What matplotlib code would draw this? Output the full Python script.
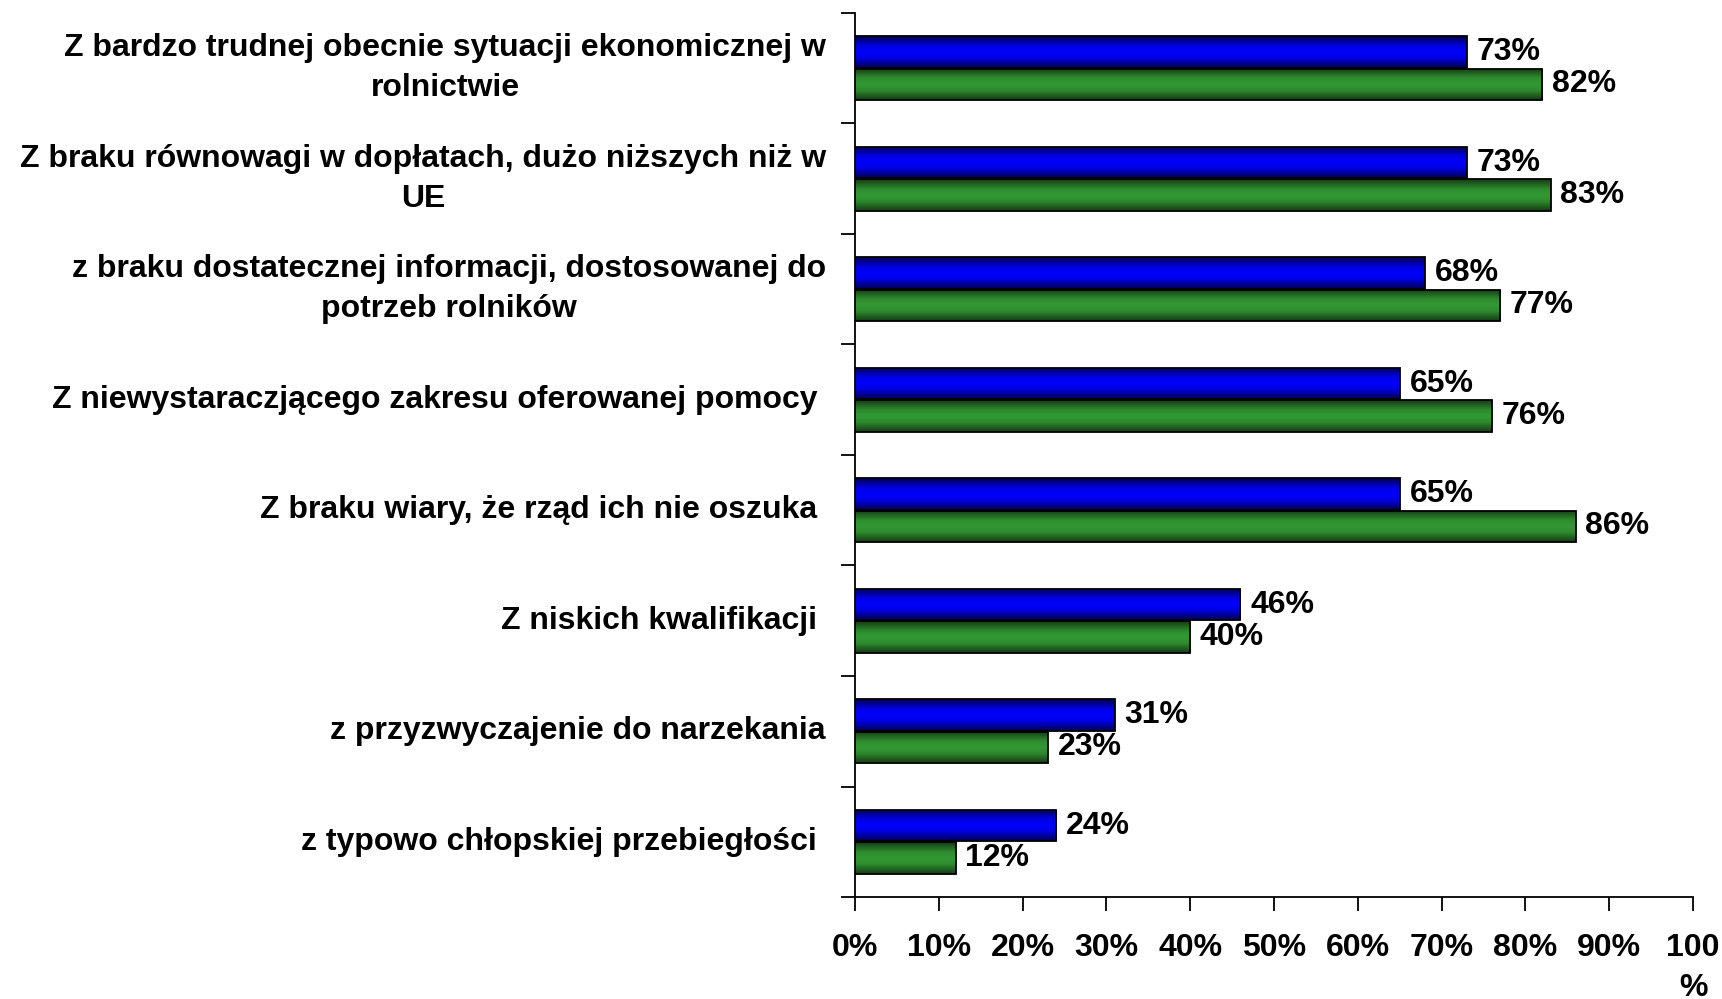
import matplotlib
matplotlib.use('Agg')
import matplotlib.pyplot as plt
import numpy as np
from matplotlib.colors import LinearSegmentedColormap
from matplotlib.transforms import blended_transform_factory

plt.rcParams['font.family'] = ['Liberation Sans', 'DejaVu Sans']
plt.rcParams['font.weight'] = 'bold'

categories = [
    'Z bardzo trudnej obecnie sytuacji ekonomicznej w\nrolnictwie',
    'Z braku równowagi w dopłatach, dużo niższych niż w\nUE',
    'z braku dostatecznej informacji, dostosowanej do\npotrzeb rolników',
    'Z niewystaraczjącego zakresu oferowanej pomocy ',
    'Z braku wiary, że rząd ich nie oszuka ',
    'Z niskich kwalifikacji ',
    'z przyzwyczajenie do narzekania',
    'z typowo chłopskiej przebiegłości ',
]
blue_vals = [73, 73, 68, 65, 65, 46, 31, 24]
green_vals = [82, 83, 77, 76, 86, 40, 23, 12]
x_ticks = [0, 10, 20, 30, 40, 50, 60, 70, 80, 90, 100]
x_labels = ['0%', '10%', '20%', '30%', '40%', '50%', '60%', '70%', '80%', '90%', '100\n%']

FS = 23

fig = plt.figure(figsize=(17.22, 9.99), dpi=100)
ax = fig.add_axes([0.4965, 0.1021, 0.4867, 0.8849])

y = np.arange(len(categories))
h = 0.285
off = 0.145

blue_cmap = LinearSegmentedColormap.from_list(
    'b', [(0, '#000050'), (0.3, '#0000e0'), (0.5, '#0000ff'), (0.7, '#0000e0'), (1, '#000050')])
green_cmap = LinearSegmentedColormap.from_list(
    'g', [(0, '#143c14'), (0.3, '#2e8a2e'), (0.5, '#339933'), (0.7, '#2e8a2e'), (1, '#143c14')])
grad = np.linspace(0, 1, 64).reshape(-1, 1)

for vals, dy, cmap, base in [(blue_vals, -off, blue_cmap, '#0000ff'),
                             (green_vals, off, green_cmap, '#339933')]:
    bars = ax.barh(y + dy, vals, height=h, color=base, edgecolor='none', zorder=2)
    for b in bars:
        x0, y0 = b.get_x(), b.get_y()
        im = ax.imshow(grad, cmap=cmap, aspect='auto', interpolation='bilinear',
                       extent=[x0, x0 + b.get_width(), y0 + b.get_height(), y0], zorder=3)
        im.set_clip_path(b)
    ax.barh(y + dy, vals, height=h, fill=False, edgecolor='black', linewidth=1.3, zorder=4)
    for yi, v in zip(y + dy, vals):
        ax.annotate(f'{v}%', xy=(v, yi), xytext=(7, 0), textcoords='offset points',
                    ha='left', va='center', fontsize=FS, fontweight='bold', zorder=5)

ax.set_xlim(0, 100)
ax.set_ylim(len(categories) - 0.5, -0.5)
ax.set_xticks(x_ticks)
ax.set_xticklabels(x_labels, fontsize=FS, fontweight='bold')
ax.set_yticks(np.arange(-0.5, len(categories), 1.0))
ax.set_yticklabels([])
ax.tick_params(axis='x', direction='out', length=10, width=1.3, pad=16)
ax.tick_params(axis='y', direction='out', length=10, width=1.3)
for lbl in ax.get_xticklabels():
    lbl.set_multialignment('center')
    lbl.set_linespacing(1.45)

for s in ['top', 'right']:
    ax.spines[s].set_visible(False)
for s in ['left', 'bottom']:
    ax.spines[s].set_linewidth(1.3)

trans = blended_transform_factory(ax.transAxes, ax.transData)
for yi, cat in zip(y, categories):
    ax.text(-0.0346, yi, cat, transform=trans, ha='right', va='center',
            multialignment='center', fontsize=FS, fontweight='bold', linespacing=1.45)

fig.savefig('out.png', dpi=100)
